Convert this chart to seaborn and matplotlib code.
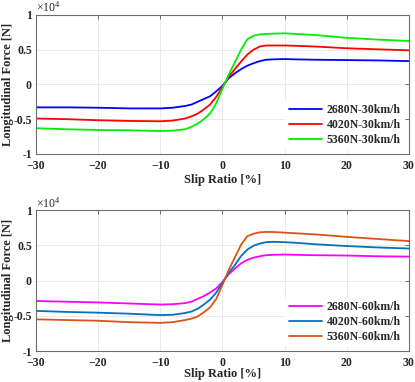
import numpy as np
import pandas as pd
import matplotlib
matplotlib.use("Agg")
import matplotlib.pyplot as plt
from matplotlib.ticker import FuncFormatter
import seaborn as sns

# slip ratio [%]
slip = [-30, -25, -20, -15, -10, -8, -6, -5, -4, -3, -2, -1, 0, 1, 2, 3, 4, 5, 6, 7, 8, 10, 12, 15, 20, 25, 30]

# longitudinal force [N], 30 km/h
f_2680_30 = [-3300, -3300, -3350, -3450, -3450, -3350, -3100, -2900, -2500, -2100, -1700, -1000, -200,
             900, 1600, 2200, 2700, 3050, 3350, 3550, 3600, 3650, 3600, 3550, 3500, 3450, 3350]
f_4020_30 = [-4900, -5000, -5150, -5250, -5300, -5200, -4900, -4600, -4200, -3600, -2900, -1800, -400,
             1100, 2200, 3300, 4300, 5000, 5450, 5600, 5600, 5600, 5550, 5450, 5200, 5050, 4900]
f_5360_30 = [-6300, -6450, -6550, -6600, -6700, -6650, -6450, -6100, -5650, -5000, -4200, -2700, -600,
             1400, 3200, 5000, 6500, 7000, 7200, 7250, 7300, 7350, 7250, 7100, 6700, 6450, 6250]

# longitudinal force [N], 60 km/h
f_2680_60 = [-2900, -3000, -3100, -3250, -3400, -3350, -3200, -3000, -2600, -2200, -1700, -1100, -200,
             900, 1700, 2450, 2950, 3250, 3450, 3600, 3650, 3700, 3650, 3600, 3550, 3450, 3400]
f_4020_60 = [-4300, -4450, -4550, -4700, -4900, -4850, -4600, -4400, -4000, -3400, -2700, -1700, -300,
             1100, 2200, 3500, 4400, 4950, 5250, 5450, 5500, 5450, 5350, 5150, 4900, 4700, 4550]
f_5360_60 = [-5500, -5600, -5700, -5900, -6000, -5900, -5600, -5400, -5100, -4500, -3800, -2600, -600,
             1500, 3300, 5100, 6300, 6650, 6850, 6900, 6900, 6800, 6700, 6550, 6200, 5900, 5600]

labels_30 = ["2680N-30km/h", "4020N-30km/h", "5360N-30km/h"]
labels_60 = ["2680N-60km/h", "4020N-60km/h", "5360N-60km/h"]
colors_30 = ["#0000ff", "#ff0000", "#00ee00"]
colors_60 = ["#ff00ff", "#0072bd", "#d95319"]


def long_form(series, labels):
    parts = []
    for vals, lab in zip(series, labels):
        parts.append(pd.DataFrame({"slip": slip, "force": vals, "case": lab}))
    return pd.concat(parts, ignore_index=True)


df30 = long_form([f_2680_30, f_4020_30, f_5360_30], labels_30)
df60 = long_form([f_2680_60, f_4020_60, f_5360_60], labels_60)

sns.set_style("whitegrid")
plt.rcParams["font.family"] = ["Liberation Serif", "DejaVu Serif"]
plt.rcParams["mathtext.fontset"] = "custom"
plt.rcParams["mathtext.rm"] = "Liberation Serif"
plt.rcParams["mathtext.default"] = "regular"

fig = plt.figure(figsize=(4.15, 3.82), dpi=100)
ax1 = fig.add_axes([0.0867, 0.597, 0.8988, 0.364])
ax2 = fig.add_axes([0.0867, 0.081, 0.8988, 0.369])

for ax, df, labels, colors, xl_y in [(ax1, df30, labels_30, colors_30, -0.19),
                                     (ax2, df60, labels_60, colors_60, -0.162)]:
    sns.lineplot(data=df, x="slip", y="force", hue="case", hue_order=labels,
                 palette=colors, linewidth=1.3, ax=ax)
    ax.set_xlim(-30, 30)
    ax.set_ylim(-10000, 10000)
    ax.set_xticks([-30, -20, -10, 0, 10, 20, 30])
    ax.set_yticks([-10000, -5000, 0, 5000, 10000])
    ax.yaxis.set_major_formatter(FuncFormatter(lambda v, p: "%g" % (v / 1e4)))
    ax.tick_params(direction="in", top=True, right=True, length=3, width=0.6,
                   color="#555555", labelsize=8.5, pad=3)
    ax.tick_params(axis="x", pad=4)
    for t in ax.get_xticklabels() + ax.get_yticklabels():
        t.set_fontweight("bold")
    ax.grid(True, color="#e6e6e6", linewidth=0.6)
    for s in ax.spines.values():
        s.set_color("#6e6e6e")
        s.set_linewidth(0.8)
    ax.set_xlabel("Slip Ratio [%]", fontsize=9, fontweight="bold")
    ax.set_ylabel("Longitudinal Force [N]", fontsize=9, fontweight="bold")
    ax.xaxis.set_label_coords(0.5, xl_y)
    ax.yaxis.set_label_coords(-0.075, 0.5)
    ax.xaxis.label.set_va("center")
    ax.yaxis.label.set_va("center")
    ax.text(0.0, 1.0, r"$\times10^{4}$", transform=ax.transAxes, fontsize=8.5,
            ha="left", va="bottom")
    leg = ax.legend(loc="lower right", frameon=True, fontsize=8.5, handlelength=2.8,
                    handletextpad=0.4, borderaxespad=0.4, labelspacing=0.25,
                    borderpad=0.3)
    leg.get_frame().set_edgecolor("white")
    leg.get_frame().set_alpha(1)
    for t in leg.get_texts():
        t.set_fontweight("bold")

fig.savefig("out.png", dpi=100)
